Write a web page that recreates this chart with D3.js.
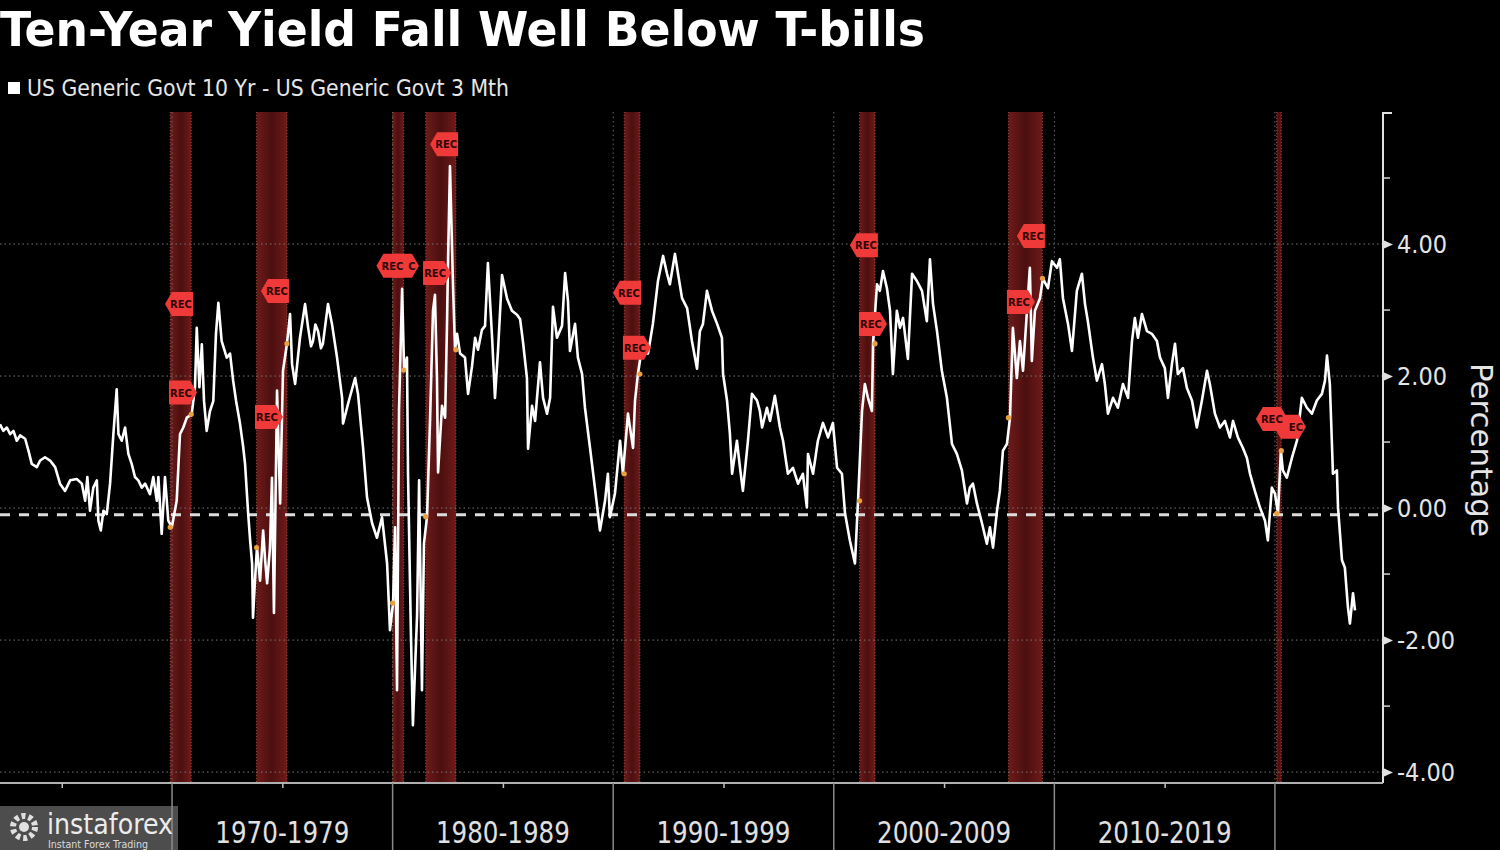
<!DOCTYPE html>
<html><head><meta charset="utf-8">
<script src="https://cdn.jsdelivr.net/npm/d3@7"></script>
<style>html,body{margin:0;padding:0;background:#000;}svg{display:block}</style>
</head><body>
<svg id="c" width="1500" height="850"></svg>
<script>
// ---------- DATA ----------
const titleText = "Ten-Year Yield Fall Well Below T-bills";
const legendText = "US Generic Govt 10 Yr - US Generic Govt 3 Mth";
const axisTitle = "Percentage";

// [decimal year, 10Y - 3M spread in %]
const s1960 = [[1962.20,1.27],[1962.35,1.17],[1962.51,1.22],[1962.66,1.12],[1962.81,1.17],[1962.96,1.02],[1963.11,1.10],[1963.34,1.05],[1963.49,0.87],[1963.64,0.67],[1963.87,0.62],[1964.02,0.72],[1964.24,0.77],[1964.47,0.72],[1964.70,0.62],[1964.92,0.37],[1965.15,0.26],[1965.38,0.42],[1965.68,0.44],[1965.91,0.37],[1966.06,0.11],[1966.16,0.47],[1966.28,-0.04],[1966.43,0.31],[1966.59,0.42],[1966.66,-0.19],[1966.77,-0.34],[1966.89,-0.04],[1967.04,-0.09],[1967.19,0.37],[1967.34,1.12],[1967.49,1.80],[1967.57,1.12],[1967.72,1.02],[1967.87,1.22],[1968.02,0.82],[1968.17,0.67],[1968.32,0.47],[1968.47,0.42],[1968.63,0.31],[1968.78,0.37],[1969.00,0.21],[1969.15,0.47],[1969.31,0.11],[1969.38,0.47],[1969.53,-0.39],[1969.68,0.47],[1969.83,-0.19],[1969.99,-0.29]];
const s1970 = [[1970.21,0.11],[1970.36,1.12],[1970.51,1.22],[1970.67,1.37],[1970.89,1.42],[1971.04,1.83],[1971.12,2.73],[1971.24,1.83],[1971.35,2.48],[1971.45,1.62],[1971.57,1.17],[1971.72,1.47],[1971.87,1.62],[1971.99,2.63],[1972.10,3.11],[1972.25,2.53],[1972.48,2.28],[1972.63,2.34],[1972.77,1.93],[1972.90,1.63],[1973.08,1.28],[1973.22,0.94],[1973.31,0.67],[1973.45,-0.08],[1973.54,-0.49],[1973.63,-0.84],[1973.67,-1.66],[1973.76,-1.10],[1973.85,-0.60],[1973.99,-1.10],[1974.13,-0.34],[1974.22,-0.79],[1974.31,-1.14],[1974.44,-0.60],[1974.53,0.46],[1974.62,-1.59],[1974.76,1.78],[1974.90,0.07],[1975.03,2.08],[1975.21,2.49],[1975.35,2.94],[1975.44,2.18],[1975.58,1.88],[1975.80,2.58],[1976.03,3.09],[1976.17,2.73],[1976.30,2.45],[1976.39,2.53],[1976.50,2.78],[1976.62,2.68],[1976.75,2.42],[1976.84,2.49],[1977.07,3.09],[1977.25,2.79],[1977.48,2.28],[1977.71,1.67],[1977.75,1.28],[1977.98,1.58],[1978.30,1.97],[1978.43,1.73],[1978.66,0.91],[1978.84,0.16],[1979.07,-0.23],[1979.29,-0.45],[1979.52,-0.14],[1979.75,-0.84],[1979.88,-1.85]];
const s1980 = [[1980.02,-1.44],[1980.11,-0.29],[1980.20,-2.76],[1980.29,1.49],[1980.43,3.32],[1980.52,2.09],[1980.65,2.28],[1980.70,0.48],[1980.83,-1.91],[1980.92,-3.29],[1981.11,-1.61],[1981.20,0.42],[1981.33,-2.76],[1981.42,-0.54],[1981.56,-0.13],[1981.70,1.37],[1981.83,2.99],[1981.92,3.23],[1982.01,1.97],[1982.06,0.54],[1982.24,1.55],[1982.38,1.37],[1982.47,2.86],[1982.51,3.71],[1982.60,5.18],[1982.74,3.35],[1982.83,2.40],[1982.92,2.64],[1983.06,2.34],[1983.28,2.28],[1983.42,1.73],[1983.60,2.15],[1983.74,2.58],[1983.87,2.40],[1984.05,2.70],[1984.19,2.76],[1984.32,3.71],[1984.51,2.58],[1984.64,1.67],[1984.78,2.40],[1984.96,3.53],[1985.19,3.17],[1985.41,2.99],[1985.64,2.93],[1985.78,2.86],[1985.91,2.52],[1986.09,1.97],[1986.14,0.90],[1986.32,1.55],[1986.46,1.32],[1986.68,2.21],[1986.82,1.67],[1987.00,1.43],[1987.14,1.67],[1987.27,3.05],[1987.45,2.58],[1987.68,2.76],[1987.82,3.56],[1987.95,3.14],[1988.04,2.38],[1988.27,2.79],[1988.40,2.28],[1988.59,2.03],[1988.72,1.52],[1988.95,0.91],[1989.17,0.31],[1989.40,-0.34],[1989.63,0.11],[1989.76,0.52],[1989.85,-0.14]];
const s1990 = [[1990.08,0.22],[1990.31,1.02],[1990.44,0.52],[1990.67,1.43],[1990.90,0.91],[1990.99,1.63],[1991.12,2.03],[1991.35,2.53],[1991.58,2.34],[1991.80,2.79],[1992.03,3.44],[1992.26,3.82],[1992.44,3.55],[1992.57,3.39],[1992.80,3.85],[1992.94,3.55],[1993.12,3.18],[1993.35,3.03],[1993.57,2.53],[1993.80,2.11],[1993.93,2.68],[1994.07,2.79],[1994.25,3.29],[1994.48,2.99],[1994.71,2.79],[1994.93,2.58],[1994.98,2.03],[1995.16,1.63],[1995.29,1.13],[1995.39,0.52],[1995.61,1.02],[1995.75,0.61],[1995.88,0.26],[1996.11,1.02],[1996.29,1.73],[1996.52,1.63],[1996.65,1.47],[1996.75,1.22],[1996.97,1.52],[1997.11,1.32],[1997.33,1.70],[1997.56,1.22],[1997.70,1.02],[1997.92,0.52],[1998.15,0.61],[1998.38,0.37],[1998.60,0.52],[1998.78,0.01],[1998.83,0.82],[1999.06,0.52],[1999.28,1.02],[1999.51,1.29],[1999.74,1.07],[1999.96,1.29]];
const s2000 = [[2000.15,0.61],[2000.37,0.52],[2000.51,-0.08],[2000.73,-0.49],[2000.96,-0.84],[2001.10,0.11],[2001.28,1.47],[2001.41,1.88],[2001.55,1.67],[2001.73,1.47],[2001.78,2.49],[2001.96,3.39],[2002.09,3.29],[2002.23,3.59],[2002.41,3.33],[2002.55,2.99],[2002.68,2.03],[2002.86,2.99],[2003.00,2.73],[2003.14,2.88],[2003.36,2.26],[2003.55,3.55],[2003.77,3.44],[2004.00,3.29],[2004.22,2.83],[2004.36,3.77],[2004.50,3.09],[2004.68,2.68],[2004.90,2.08],[2005.13,1.67],[2005.36,0.97],[2005.58,0.82],[2005.81,0.57],[2006.04,0.07],[2006.17,0.31],[2006.31,0.37],[2006.49,0.07],[2006.72,-0.23],[2006.94,-0.54],[2007.08,-0.29],[2007.22,-0.60],[2007.40,-0.04],[2007.53,0.26],[2007.67,0.87],[2007.85,0.97],[2007.99,1.37],[2008.12,2.73],[2008.30,1.97],[2008.44,2.53],[2008.58,2.08],[2008.76,2.99],[2008.89,3.64],[2008.98,2.23],[2009.12,2.99],[2009.35,3.18],[2009.48,3.48],[2009.71,3.33],[2009.89,3.74]];
const s2010 = [[2010.12,3.64],[2010.25,3.77],[2010.39,3.18],[2010.62,2.79],[2010.80,2.38],[2011.02,3.29],[2011.25,3.55],[2011.39,3.09],[2011.52,2.83],[2011.75,2.28],[2011.93,1.93],[2012.16,2.18],[2012.29,1.88],[2012.43,1.43],[2012.66,1.67],[2012.88,1.52],[2013.11,1.88],[2013.34,1.67],[2013.52,2.53],[2013.65,2.88],[2013.79,2.58],[2013.97,2.94],[2014.20,2.68],[2014.42,2.64],[2014.65,2.53],[2014.79,2.28],[2015.01,2.12],[2015.15,1.67],[2015.33,2.18],[2015.47,2.49],[2015.60,2.03],[2015.83,2.12],[2016.01,1.82],[2016.24,1.63],[2016.46,1.22],[2016.69,1.63],[2016.92,2.08],[2017.05,1.88],[2017.28,1.43],[2017.51,1.22],[2017.73,1.32],[2017.96,1.07],[2018.10,1.32],[2018.32,1.07],[2018.55,0.91],[2018.73,0.76],[2018.87,0.52],[2019.09,0.26],[2019.32,0.01],[2019.55,-0.19],[2019.68,-0.49],[2019.86,0.31]];
const s2020 = [[2020.00,0.22],[2020.14,-0.08],[2020.27,0.87],[2020.36,0.57],[2020.54,0.46],[2020.77,0.76],[2021.00,1.02],[2021.22,1.67],[2021.45,1.52],[2021.68,1.43],[2021.90,1.63],[2022.13,1.73],[2022.27,1.93],[2022.36,2.31],[2022.49,1.88],[2022.58,1.02],[2022.63,0.52],[2022.81,0.57],[2022.86,0.01],[2023.04,-0.79],[2023.17,-0.90],[2023.31,-1.50],[2023.40,-1.75],[2023.54,-1.29],[2023.63,-1.55]];

// NBER recessions [start, end] in decimal years
const recessions = [[1969.92,1970.87],[1973.83,1975.21],[1980.0,1980.5],[1981.5,1982.87],[1990.5,1991.21],[2001.17,2001.87],[2007.92,2009.46],[2020.08,2020.29]];
// REC event tags [year, value, shape, visible label, label offset]; back tags listed first
const recTags = [[1970.36,3.09,'L',"REC",1],[1970.45,1.75,'R',"REC",-1],[1974.35,1.38,'R',"REC",-1],[1974.71,3.29,'L',"REC",1],[1980.47,3.67,'H',"C",9],[1979.99,3.67,'H',"REC",0],[1981.97,3.56,'R',"REC",-1],[1982.38,5.51,'L',"REC",1],[1990.67,3.26,'L',"REC",1],[1991.03,2.43,'R',"REC",-1],[2001.41,3.98,'L',"REC",1],[2001.73,2.79,'R',"REC",-1],[2008.44,3.12,'R',"REC",-1],[2008.98,4.12,'L',"REC",1],[2020.68,1.23,'H',"EC",6],[2019.86,1.35,'H',"REC",0]];

const yMajorTicks = [-4,-2,0,2,4];
const yMinorTicks = [-3,-1,1,3,5];
const decadeStarts = [1970,1980,1990,2000,2010,2020];
const decadeLabels = ["1970-1979","1980-1989","1990-1999","2000-2009","2010-2019"];
const midDecadeTicks = [1965,1975,1985,1995,2005,2015];
const refLine = -0.1;
const xDomain = [1962.2, 2024.9];
const yDomain = [-4.165, 6];

// ---------- CHART ----------
const series = [].concat(s1960, s1970, s1980, s1990, s2000, s2010, s2020);
const W = 1500, H = 850;
const P = {left:0, right:1383, top:112, bottom:783};
const svg = d3.select("#c");
svg.append("rect").attr("width",W).attr("height",H).attr("fill","#000");

const x = d3.scaleLinear().domain(xDomain).range([P.left, P.right]);
const y = d3.scaleLinear().domain(yDomain).range([P.bottom, P.top]);

const defs = svg.append("defs");
const gr = defs.append("linearGradient").attr("id","bandGrad").attr("x1",0).attr("x2",1).attr("y1",0).attr("y2",0);
gr.append("stop").attr("offset","0%").attr("stop-color","#6e1a1a");
gr.append("stop").attr("offset","50%").attr("stop-color","#4c0f0f");
gr.append("stop").attr("offset","100%").attr("stop-color","#6e1a1a");

// recession bands
svg.append("g").selectAll("rect").data(recessions).join("rect")
  .attr("x", d => x(d[0])).attr("width", d => Math.max(3, x(d[1]) - x(d[0])))
  .attr("y", P.top).attr("height", P.bottom - P.top)
  .attr("fill","url(#bandGrad)");
const edges = recessions.flat();
svg.append("g").selectAll("line").data(edges).join("line")
  .attr("x1", d => x(d)).attr("x2", d => x(d))
  .attr("y1", P.top).attr("y2", P.bottom)
  .attr("stroke","#c8704a").attr("stroke-opacity",0.6).attr("stroke-width",1)
  .attr("stroke-dasharray","1,2");

// gridlines
svg.append("g").selectAll("line").data(yMajorTicks).join("line")
  .attr("x1", P.left).attr("x2", P.right)
  .attr("y1", d => y(d)).attr("y2", d => y(d))
  .attr("stroke","#777").attr("stroke-width",1).attr("stroke-dasharray","1.5,3");
svg.append("g").selectAll("line").data(decadeStarts).join("line")
  .attr("x1", d => x(d)).attr("x2", d => x(d))
  .attr("y1", P.top).attr("y2", P.bottom)
  .attr("stroke","#666").attr("stroke-width",1).attr("stroke-dasharray","1.5,3");

// reference dashed line
svg.append("line").attr("x1",P.left).attr("x2",P.right)
  .attr("y1", y(refLine)).attr("y2", y(refLine))
  .attr("stroke","#dcdcdc").attr("stroke-width",3).attr("stroke-dasharray","10,9");

// series line
const line = d3.line().x(d => x(d[0])).y(d => y(d[1]));
svg.append("path").datum(series).attr("d", line)
  .attr("fill","none").attr("stroke","#fff").attr("stroke-width",2.6)
  .attr("stroke-linejoin","round");

// event dots on the line at recession boundaries
const bis = d3.bisector(d => d[0]).center;
svg.append("g").selectAll("circle").data(edges).join("circle")
  .attr("cx", d => x(d)).attr("cy", d => y(series[bis(series, d)][1]))
  .attr("r", 2.6).attr("fill","#e8a040");

// REC tags
const shapes = {
  L: "M-15,0 L-8,-12 L13,-12 L13,12 L-8,12 Z",
  R: "M-13,-12 L8,-12 L15,0 L8,12 L-13,12 Z",
  H: "M-16,0 L-9,-12 L9,-12 L16,0 L9,12 L-9,12 Z"
};
const tg = svg.append("g").selectAll("g").data(recTags).join("g")
  .attr("transform", d => `translate(${x(d[0])},${y(d[1])})`);
tg.append("path").attr("d", d => shapes[d[2]]).attr("fill","#f03a3a");
tg.append("text").text(d => d[3])
  .attr("x", d => d[4]).attr("y", 4)
  .attr("text-anchor","middle").attr("fill","#2e0404")
  .style("font","bold 10px 'DejaVu Sans'");

// right axis
const ax = P.right;
svg.append("line").attr("x1",ax).attr("x2",ax).attr("y1",P.top).attr("y2",P.bottom)
  .attr("stroke","#e0e0e0").attr("stroke-width",2);
svg.append("line").attr("x1",ax).attr("x2",ax+9).attr("y1",P.top+1).attr("y2",P.top+1)
  .attr("stroke","#e0e0e0").attr("stroke-width",2);
const ya = svg.append("g").attr("transform",`translate(${ax},0)`)
  .call(d3.axisRight(y).tickValues(yMajorTicks).tickSize(0).tickPadding(14)
    .tickFormat(d => (d < 0 ? "-" : "") + Math.abs(d).toFixed(2)));
ya.select(".domain").remove();
ya.selectAll("text").attr("fill","#e4e4e4").attr("text-anchor","start")
  .style("font","25px 'DejaVu Sans Condensed', 'DejaVu Sans', sans-serif");
ya.selectAll(".tick").append("path").attr("d","M0,-4.5 L10,0 L0,4.5 Z").attr("fill","#e0e0e0");
svg.append("g").selectAll("line").data(yMinorTicks).join("line")
  .attr("x1",ax).attr("x2",ax+7).attr("y1",d=>y(d)).attr("y2",d=>y(d))
  .attr("stroke","#d0d0d0").attr("stroke-width",1.5);
svg.append("text").text(axisTitle)
  .attr("transform",`translate(1471,450) rotate(90)`)
  .attr("text-anchor","middle").attr("fill","#e4e4e4")
  .attr("textLength",174).attr("lengthAdjust","spacingAndGlyphs")
  .style("font","31px 'DejaVu Sans Condensed', 'DejaVu Sans', sans-serif");

// bottom axis
const xa = svg.append("g").attr("transform",`translate(0,${P.bottom})`)
  .call(d3.axisBottom(x).tickValues(midDecadeTicks).tickSize(5).tickFormat(""));
xa.select(".domain").attr("stroke","#b0b0b0").attr("stroke-width",2).attr("d",`M${P.left},0H${P.right}`);
xa.selectAll(".tick line").attr("stroke","#c0c0c0").attr("stroke-width",1.5);
svg.append("g").selectAll("line").data(decadeStarts).join("line")
  .attr("x1", d => x(d)).attr("x2", d => x(d)).attr("y1", P.bottom).attr("y2", H)
  .attr("stroke","#8a8a8a").attr("stroke-width",1.5);
svg.append("g").selectAll("text").data(decadeLabels).join("text")
  .text(d => d)
  .attr("x", (d,i) => x(decadeStarts[i] + 5)).attr("y", 843)
  .attr("text-anchor","middle").attr("fill","#e0e0e0")
  .attr("textLength",134).attr("lengthAdjust","spacingAndGlyphs")
  .style("font","31px 'Liberation Sans Narrow', 'DejaVu Sans Condensed', sans-serif");

// title & legend
svg.append("text").text(titleText).attr("x",0).attr("y",46)
  .attr("fill","#fff").attr("textLength",925).attr("lengthAdjust","spacingAndGlyphs")
  .style("font","bold 48px 'DejaVu Sans Condensed', 'DejaVu Sans', sans-serif");
svg.append("rect").attr("x",8).attr("y",82).attr("width",12).attr("height",12).attr("fill","#fff");
svg.append("text").text(legendText).attr("x",27).attr("y",96)
  .attr("fill","#e6e6e6").attr("textLength",482).attr("lengthAdjust","spacingAndGlyphs")
  .style("font","23px 'DejaVu Sans Condensed', 'DejaVu Sans', sans-serif");

// watermark
const wm = svg.append("g");
wm.append("rect").attr("x",0).attr("y",806).attr("width",178).attr("height",44)
  .attr("fill","#8c8c8c").attr("fill-opacity",0.55);
wm.append("circle").attr("cx",24).attr("cy",827).attr("r",11)
  .attr("fill","none").attr("stroke","#e0e0e0").attr("stroke-width",6).attr("stroke-dasharray","4,3");
wm.append("circle").attr("cx",24).attr("cy",827).attr("r",5).attr("fill","#e0e0e0");
wm.append("text").text("instaforex").attr("x",47).attr("y",834)
  .attr("fill","#ececec").attr("textLength",126).attr("lengthAdjust","spacingAndGlyphs")
  .style("font","29px 'DejaVu Sans Condensed', 'DejaVu Sans', sans-serif");
wm.append("text").text("Instant Forex Trading").attr("x",48).attr("y",848)
  .attr("fill","#dcdcdc").attr("textLength",100).attr("lengthAdjust","spacingAndGlyphs")
  .style("font","10px 'DejaVu Sans', sans-serif");
</script>
</body></html>
